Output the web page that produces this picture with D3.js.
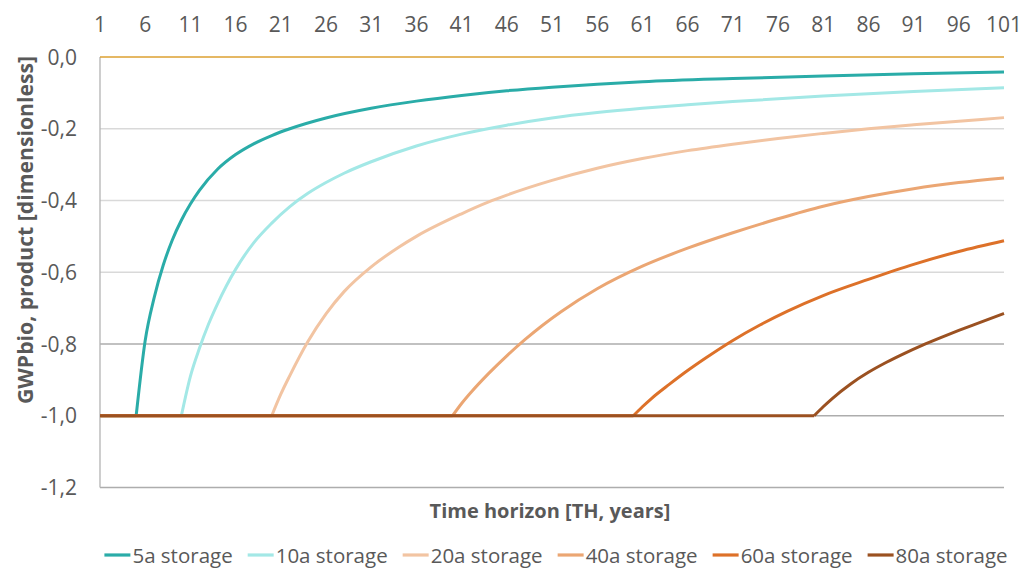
<!DOCTYPE html>
<html>
<head>
<meta charset="utf-8">
<script src="https://cdn.jsdelivr.net/npm/d3@7"></script>
<style>
  body { margin: 0; background: #fff; }
  text { font-family: "Open Sans", sans-serif; fill: #595959; }
</style>
</head>
<body>
<svg width="1025" height="568"></svg>
<script>
// Tick labels
const xTicks = [1, 6, 11, 16, 21, 26, 31, 36, 41, 46, 51, 56, 61, 66, 71, 76, 81, 86, 91, 96, 101];
const yTicks = [0, -0.2, -0.4, -0.6, -0.8, -1.0, -1.2];

// Series
const seriesNames = ["5a storage", "10a storage", "20a storage", "40a storage", "60a storage", "80a storage"];
const storageYears = [5, 10, 20, 40, 60, 80];

const th5 = [1, 5, 6, 7, 8, 9, 10, 11, 12, 14, 16, 18, 20, 22, 26, 31, 36, 41, 46, 51, 56, 61, 71, 81, 91, 101];
const gwp5 = [-1, -1, -0.79, -0.67, -0.58, -0.51, -0.455, -0.41, -0.372, -0.313, -0.272, -0.242, -0.219, -0.200, -0.170, -0.143, -0.123, -0.107, -0.094, -0.084, -0.076, -0.069, -0.060, -0.053, -0.047, -0.042];

const th10 = [1, 10, 11, 12, 13, 14, 15, 16, 18, 20, 22, 24, 26, 28, 31, 36, 41, 46, 51, 56, 61, 66, 71, 81, 91, 101];
const gwp10 = [-1, -1, -0.89, -0.812, -0.745, -0.688, -0.637, -0.592, -0.518, -0.463, -0.417, -0.380, -0.350, -0.324, -0.292, -0.248, -0.215, -0.190, -0.170, -0.155, -0.143, -0.133, -0.124, -0.109, -0.096, -0.086];

const th20 = [1, 20, 21, 22, 24, 26, 28, 31, 34, 36, 41, 44, 46, 51, 56, 61, 66, 71, 76, 81, 86, 91, 96, 101];
const gwp20 = [-1, -1, -0.94, -0.888, -0.793, -0.716, -0.654, -0.585, -0.531, -0.500, -0.437, -0.404, -0.385, -0.344, -0.310, -0.283, -0.261, -0.243, -0.227, -0.213, -0.200, -0.189, -0.179, -0.169];

const th40 = [1, 40, 41, 42, 44, 46, 48, 50, 52, 56, 61, 66, 71, 76, 81, 86, 91, 96, 101];
const gwp40 = [-1, -1, -0.966, -0.936, -0.882, -0.833, -0.788, -0.747, -0.710, -0.646, -0.583, -0.533, -0.490, -0.451, -0.416, -0.389, -0.367, -0.350, -0.337];

const th60 = [1, 60, 61, 62, 64, 66, 68, 71, 74, 77, 81, 86, 91, 96, 101];
const gwp60 = [-1, -1, -0.975, -0.952, -0.912, -0.874, -0.839, -0.790, -0.747, -0.709, -0.665, -0.620, -0.578, -0.542, -0.512];

const th80 = [1, 80, 81, 82, 84, 86, 88, 90, 92, 94, 96, 98, 101];
const gwp80 = [-1, -1, -0.975, -0.952, -0.912, -0.879, -0.851, -0.826, -0.803, -0.782, -0.762, -0.743, -0.715];

const seriesTh = [th5, th10, th20, th40, th60, th80];
const seriesGwp = [gwp5, gwp10, gwp20, gwp40, gwp60, gwp80];
const colors = ["#2aaca8", "#a3e8e6", "#f2c4a2", "#eba673", "#dd7129", "#9b5121"];

const svg = d3.select("svg"),
      margin = {top: 57, left: 100},
      width = 904,
      height = 430.5;

const g = svg.append("g").attr("transform", `translate(${margin.left},${margin.top})`);

const x = d3.scaleLinear().domain([1, 101]).range([0, width]);
const y = d3.scaleLinear().domain([-1.2, 0]).range([height, 0]);
const fmt = v => d3.format(".1f")(v).replace(".", ",").replace("−", "-");

// gridlines
g.selectAll(".grid")
  .data(yTicks.filter(d => d < 0))
  .join("line")
    .attr("x1", 0).attr("x2", width)
    .attr("y1", d => y(d)).attr("y2", d => y(d))
    .attr("stroke", d => d <= -0.8 ? "#adadad" : "#d9d9d9")
    .attr("stroke-width", 1.3);

// left axis line
g.append("line")
  .attr("x1", 0).attr("x2", 0)
  .attr("y1", y(0)).attr("y2", y(-1.2))
  .attr("stroke", "#b3b3b3").attr("stroke-width", 1.3);

// category axis line at 0
g.append("line")
  .attr("x1", 0).attr("x2", width)
  .attr("y1", y(0)).attr("y2", y(0))
  .attr("stroke", "#dca031").attr("stroke-width", 1.5);

// y tick labels
g.selectAll(".ylab")
  .data(yTicks)
  .join("text")
    .attr("x", -23)
    .attr("y", d => y(d))
    .attr("dy", "0.36em")
    .attr("text-anchor", "end")
    .style("font-size", "21px")
    .text(fmt);

// x tick labels (top)
g.selectAll(".xlab")
  .data(xTicks)
  .join("text")
    .attr("x", d => x(d))
    .attr("y", -25)
    .attr("text-anchor", "middle")
    .style("font-size", "21px")
    .text(d => d);

// series: flat part straight, rising part smooth
const flatLine = d3.line().x(d => x(d[0])).y(d => y(d[1]));
const riseLine = d3.line().x(d => x(d[0])).y(d => y(d[1])).curve(d3.curveMonotoneX);

seriesNames.forEach((name, i) => {
  const pts = seriesTh[i].map((t, j) => [t, seriesGwp[i][j]]);
  const flat = pts.filter(d => d[0] <= storageYears[i]);
  const rise = pts.filter(d => d[0] >= storageYears[i]);
  const s = g.append("g").attr("fill", "none").attr("stroke", colors[i])
    .attr("stroke-width", 3).attr("stroke-linejoin", "round");
  s.append("path").attr("d", flatLine(flat));
  s.append("path").attr("d", riseLine(rise));
});

// axis titles
svg.append("text")
  .attr("x", 550)
  .attr("y", 518)
  .attr("text-anchor", "middle")
  .style("font-size", "20px")
  .style("font-weight", "bold")
  .text("Time horizon [TH, years]");

svg.append("text")
  .attr("transform", "translate(33,230) rotate(-90)")
  .attr("text-anchor", "middle")
  .style("font-size", "21.2px")
  .style("font-weight", "bold")
  .text("GWPbio, product [dimensionless]");

// legend
const legend = svg.append("g");
let lx = 0;
seriesNames.forEach((name, i) => {
  const item = legend.append("g").attr("transform", `translate(${lx},0)`);
  item.append("line")
    .attr("x1", 0).attr("x2", 26)
    .attr("y1", 555).attr("y2", 555)
    .attr("stroke", colors[i]).attr("stroke-width", 3.2);
  const t = item.append("text")
    .attr("x", 28)
    .attr("y", 563)
    .style("font-size", "20.5px")
    .text(name);
  lx += 28 + t.node().getComputedTextLength() + 15;
});
const legendW = lx - 15;
legend.attr("transform", `translate(${556 - legendW / 2},0)`);
</script>
</body>
</html>
